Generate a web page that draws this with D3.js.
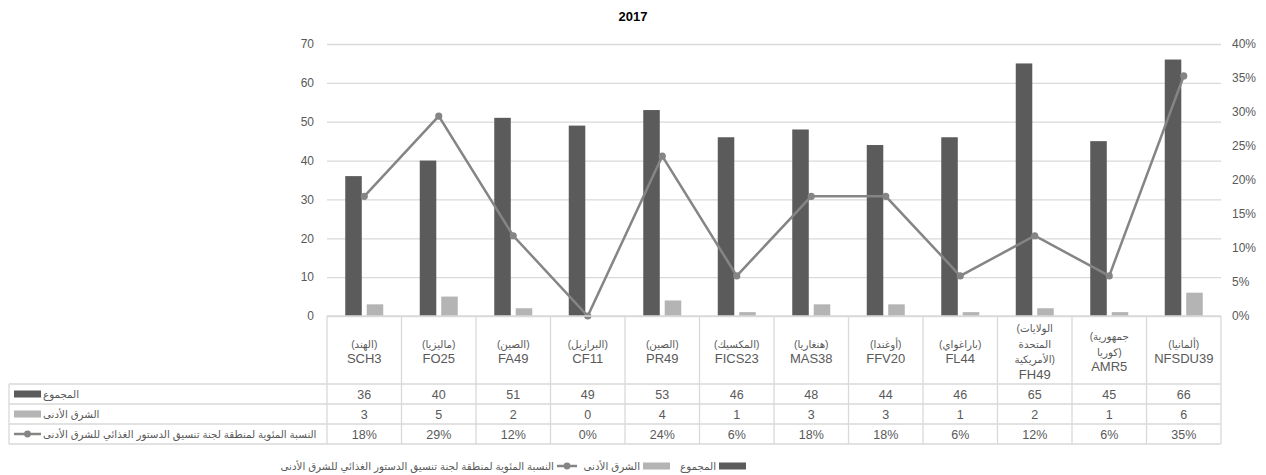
<!DOCTYPE html>
<html><head><meta charset="utf-8">
<script src="https://cdn.jsdelivr.net/npm/d3@7"></script>
<style>body{margin:0;background:#fff}svg{display:block}</style>
</head><body>
<svg id="c" width="1266" height="475"></svg>
<script>
const codes = ["SCH3","FO25","FA49","CF11","PR49","FICS23","MAS38","FFV20","FL44","FH49","AMR5","NFSDU39"];
const countries = [["(الهند)"],["(ماليزيا)"],["(الصين)"],["(البرازيل)"],["(الصين)"],["(المكسيك)"],["(هنغاريا)"],["(أوغندا)"],["(باراغواي)"],["(الولايات","المتحدة","الأمريكية)"],["(جمهورية","كوريا)"],["(ألمانيا)"]];
const totals = [36,40,51,49,53,46,48,44,46,65,45,66];
const nearEast = [3,5,2,0,4,1,3,3,1,2,1,6];
const pctNE = [17.6,29.4,11.8,0,23.5,5.9,17.6,17.6,5.9,11.8,5.9,35.3];
const leftTicks = [0,10,20,30,40,50,60,70];
const rightTicks = [0,5,10,15,20,25,30,35,40];
const seriesNames = ["المجموع","الشرق الأدنى","النسبة المئوية لمنطقة لجنة تنسيق الدستور الغذائي للشرق الأدنى"];
const title = "2017";

const C_DARK="#5b5b5b", C_LIGHT="#b4b4b4", C_LINE="#858585", C_GRID="#d9d9d9", C_TXT="#595959";
const FONT="'Liberation Sans', Arial, 'DejaVu Sans', sans-serif";
const AR=10.3;
const LRM="\u200E";
const svg = d3.select("#c").style("font-family",FONT);
const X0=327, X1=1221, Y0=316, Y1=44;
const x = d3.scaleBand().domain(codes).range([X0,X1]).padding(0);
const bw = x.bandwidth();
const xs = d3.scaleBand().domain(["t","n"]).range([0,bw]).paddingInner(0.23).paddingOuter(0.85);
const yL = d3.scaleLinear().domain([0,70]).range([Y0,Y1]);
const yR = d3.scaleLinear().domain([0,40]).range([Y0,Y1]);

// title
svg.append("text").attr("x",633).attr("y",21).attr("text-anchor","middle")
  .attr("font-weight","bold").attr("font-size",13).attr("fill","#000").text(title);

// grid + axes
const gL = svg.append("g").attr("transform",`translate(${X0},0)`)
  .call(d3.axisLeft(yL).tickValues(leftTicks).tickSize(-(X1-X0)).tickPadding(13));
gL.select(".domain").remove();
gL.selectAll(".tick line").attr("stroke",C_GRID).attr("stroke-width",1.3);
gL.selectAll(".tick text").attr("fill",C_TXT).attr("font-size",12).style("font-family",FONT);
const gR = svg.append("g").attr("transform",`translate(${X1},0)`)
  .call(d3.axisRight(yR).tickValues(rightTicks).tickSize(0).tickPadding(11).tickFormat(d=>d+"%"));
gR.select(".domain").remove();
gR.selectAll(".tick text").attr("fill",C_TXT).attr("font-size",12).style("font-family",FONT);

// bars
svg.append("g").selectAll("rect").data(codes).join("rect")
  .attr("x",d=>x(d)+xs("t")).attr("width",xs.bandwidth())
  .attr("y",(d,i)=>yL(totals[i])).attr("height",(d,i)=>Y0-yL(totals[i])).attr("fill",C_DARK);
svg.append("g").selectAll("rect").data(codes).join("rect")
  .attr("x",d=>x(d)+xs("n")).attr("width",xs.bandwidth())
  .attr("y",(d,i)=>yL(nearEast[i])).attr("height",(d,i)=>Y0-yL(nearEast[i])).attr("fill",C_LIGHT);

// line
const line = d3.line().x((d,i)=>x(codes[i])+bw/2).y(d=>yR(d));
svg.append("path").datum(pctNE).attr("d",line).attr("fill","none").attr("stroke",C_LINE).attr("stroke-width",2.5);
svg.append("g").selectAll("circle").data(pctNE).join("circle")
  .attr("cx",(d,i)=>x(codes[i])+bw/2).attr("cy",d=>yR(d)).attr("r",3.6).attr("fill",C_LINE);

// table
const TL=9, rowTop=384, rh=20, rows=3, TB=rowTop+rh*rows;
const tg = svg.append("g");
tg.append("line").attr("x1",X0).attr("x2",X1).attr("y1",Y0).attr("y2",Y0).attr("stroke",C_GRID).attr("stroke-width",1.3);
for(let r=0;r<=rows;r++){
  tg.append("line").attr("x1",TL).attr("x2",X1).attr("y1",rowTop+r*rh).attr("y2",rowTop+r*rh).attr("stroke",C_GRID).attr("stroke-width",1.3);
}
const vx = codes.map(c=>x(c)).concat([X1]);
tg.selectAll("line.v").data(vx).join("line").attr("x1",d=>d).attr("x2",d=>d).attr("y1",Y0).attr("y2",TB).attr("stroke",C_GRID).attr("stroke-width",1.3);
tg.append("line").attr("x1",TL).attr("x2",TL).attr("y1",rowTop).attr("y2",TB).attr("stroke",C_GRID).attr("stroke-width",1.3);

// category labels (one text element per line)
const lh=15.5, cy=351;
codes.forEach((c,i)=>{
  const lines = countries[i].concat([c]);
  lines.forEach((l,k)=>{
    const isCode = k===lines.length-1;
    tg.append("text").attr("x",x(c)+bw/2)
      .attr("y",cy + (k-(lines.length-1)/2)*lh + 4.5)
      .attr("text-anchor","middle").attr("fill",C_TXT)
      .attr("direction","ltr")
      .attr("font-size",isCode?13:AR).text(isCode?l:LRM+l+LRM);
  });
});
// values
const rowData=[totals.map(String), nearEast.map(String), pctNE.map(v=>Math.round(v)+"%")];
rowData.forEach((arr,r)=>{
  tg.append("g").selectAll("text").data(arr).join("text").attr("x",(d,i)=>x(codes[i])+bw/2)
    .attr("y",rowTop+r*rh+rh/2+4.5).attr("text-anchor","middle").attr("font-size",12.5).attr("fill",C_TXT).text(d=>d);
});
// symbols
function sym(g,type,xx,yy,w){
  if(type==="line"){
    g.append("line").attr("x1",xx).attr("x2",xx+w).attr("y1",yy).attr("y2",yy).attr("stroke",C_LINE).attr("stroke-width",2.5);
    g.append("circle").attr("cx",xx+w/2).attr("cy",yy).attr("r",3.4).attr("fill",C_LINE);
  } else {
    g.append("rect").attr("x",xx).attr("y",yy-3.5).attr("width",w).attr("height",7).attr("fill",type==="t"?C_DARK:C_LIGHT);
  }
}
const types=["t","n","line"];
types.forEach((ty,r)=>{
  const yy=rowTop+r*rh+rh/2;
  sym(tg,ty,14,yy,27);
  tg.append("text").attr("x",43).attr("y",yy+4).attr("font-size",AR).attr("fill",C_TXT).text(seriesNames[r]);
});

// legend
const lg = svg.append("g");
const legY = 466;
const legItems=[{ty:"line",name:seriesNames[2],sx:557,w:20},{ty:"n",name:seriesNames[1],sx:643,w:27},{ty:"t",name:seriesNames[0],sx:719,w:27}];
legItems.forEach(it=>{
  sym(lg,it.ty,it.sx,legY,it.w);
  lg.append("text").attr("x",it.sx-3).attr("y",legY+4).attr("text-anchor","end").attr("font-size",AR).attr("fill",C_TXT).text(it.name);
});
</script>
</body></html>
